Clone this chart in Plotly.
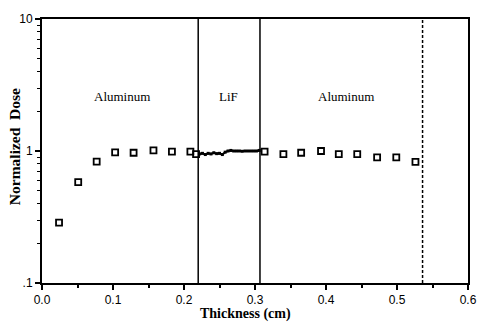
import math
import plotly.graph_objects as go

# Aluminum (front) data
al1_x = [0.024, 0.051, 0.077, 0.103, 0.129, 0.157, 0.183, 0.209, 0.217]
al1_y = [0.287, 0.582, 0.832, 0.975, 0.97, 1.01, 0.99, 0.99, 0.947]
# LiF region data
lif_x = [0.222, 0.226, 0.230, 0.234, 0.238, 0.242, 0.246, 0.250, 0.254, 0.258,
         0.262, 0.266, 0.270, 0.274, 0.278, 0.282, 0.286, 0.290, 0.294, 0.298,
         0.302, 0.306]
lif_y = [0.95, 0.96, 0.94, 0.96, 0.95, 0.97, 0.955, 0.96, 0.94, 0.98,
         1.0, 1.01, 1.0, 1.0, 1.0, 0.995, 1.0, 1.0, 1.0, 1.0,
         1.0, 1.01]
# Aluminum (back) data
al2_x = [0.3135, 0.340, 0.365, 0.393, 0.418, 0.444, 0.472, 0.499, 0.526]
al2_y = [0.99, 0.947, 0.97, 1.0, 0.947, 0.947, 0.895, 0.895, 0.827]

boundaries_solid = [0.22, 0.307]
boundary_dashed = [0.536]

region_labels = ["Aluminum", "LiF", "Aluminum"]
region_label_x = [0.113, 0.262, 0.428]
region_label_y = 2.6

x_tickvals = [0.0, 0.1, 0.2, 0.3, 0.4, 0.5, 0.6]
x_ticktext = ["0.0", "0.1", "0.2", "0.3", "0.4", "0.5", "0.6"]
y_tickvals = [0.1, 1, 10]
y_ticktext = [".1", "1", "10"]

fig = go.Figure()

marker_style = dict(symbol="square-open", size=6, color="black", line=dict(width=1.8, color="black"))

fig.add_trace(go.Scatter(x=al1_x, y=al1_y, mode="markers", marker=marker_style, showlegend=False))
fig.add_trace(go.Scatter(x=lif_x, y=lif_y, mode="lines+markers",
                         line=dict(color="black", width=2),
                         marker=dict(symbol="square", size=3, color="black"),
                         showlegend=False))
fig.add_trace(go.Scatter(x=al2_x, y=al2_y, mode="markers", marker=marker_style, showlegend=False))

for xv in boundaries_solid:
    fig.add_shape(type="line", x0=xv, x1=xv, y0=0.0, y1=1.0, xref="x", yref="paper",
                  line=dict(color="black", width=1.5))
for xv in boundary_dashed:
    fig.add_shape(type="line", x0=xv, x1=xv, y0=0.0, y1=1.0, xref="x", yref="paper",
                  line=dict(color="black", width=1.5, dash="3px,2px"))

for txt, xv in zip(region_labels, region_label_x):
    fig.add_annotation(x=xv, y=math.log10(region_label_y), xref="x", yref="y", text=txt,
                       showarrow=False,
                       font=dict(family="Liberation Serif", size=13, color="black"))

fig.add_annotation(x=0.478, y=-0.118, xref="paper", yref="paper", text="<b>Thickness (cm)</b>",
                   showarrow=False, yanchor="middle", xanchor="center",
                   font=dict(family="Liberation Serif", size=14, color="black"))
fig.add_annotation(x=-0.0655, y=0.515, xref="paper", yref="paper",
                   text="<b>Normalized&nbsp;&nbsp;Dose</b>",
                   showarrow=False, textangle=-90, xanchor="center", yanchor="middle",
                   font=dict(family="Liberation Serif", size=15.5, color="black"))

fig.update_xaxes(range=[0, 0.6], tickvals=x_tickvals, ticktext=x_ticktext,
                 ticks="outside", ticklen=5, tickwidth=1.5, tickcolor="black",
                 minor=dict(dtick=0.05, ticks="outside", ticklen=3, tickwidth=1.5, tickcolor="black"),
                 showline=True, linewidth=2, linecolor="black", mirror=True,
                 showgrid=False, zeroline=False,
                 tickfont=dict(family="Liberation Sans", size=12, color="black"))
fig.update_yaxes(type="log", range=[-1, 1], tickvals=y_tickvals, ticktext=y_ticktext,
                 ticks="outside", ticklen=5, tickwidth=1.5, tickcolor="black",
                 minor=dict(tickvals=[0.2, 0.3, 0.4, 0.5, 0.6, 0.7, 0.8, 0.9,
                                      2, 3, 4, 5, 6, 7, 8, 9],
                            ticks="outside", ticklen=3, tickwidth=1.2, tickcolor="black"),
                 showline=True, linewidth=2, linecolor="black", mirror=True,
                 showgrid=False, zeroline=False,
                 tickfont=dict(family="Liberation Sans", size=12, color="black"))

fig.update_layout(width=489, height=332, margin=dict(l=42, r=12, t=12, b=49),
                  paper_bgcolor="white", plot_bgcolor="white")

fig.write_html("out.html")
